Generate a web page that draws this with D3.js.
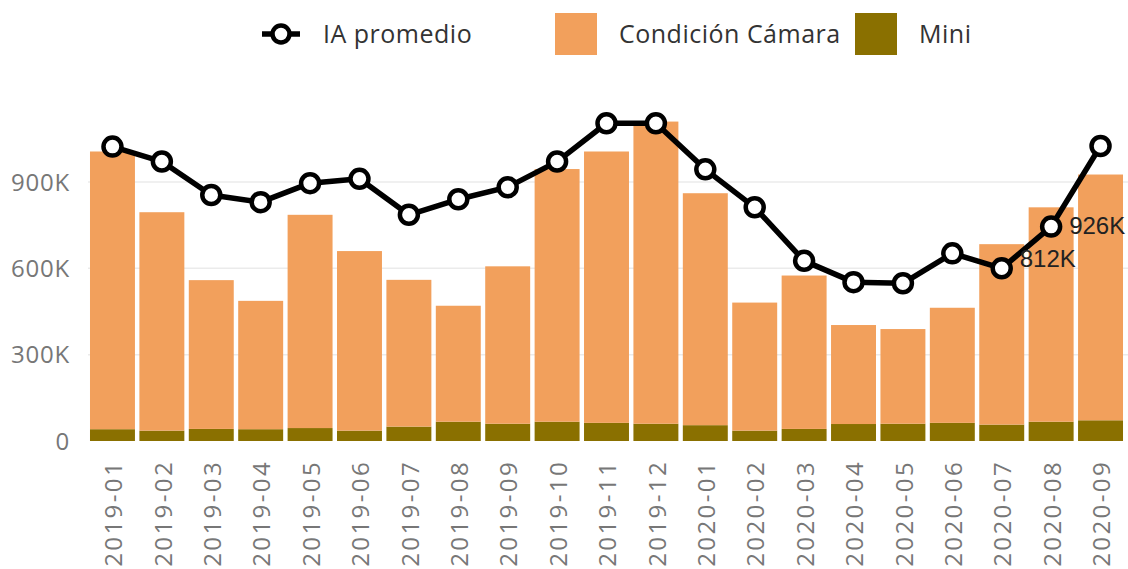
<!DOCTYPE html>
<html>
<head>
<meta charset="utf-8">
<script src="https://cdn.jsdelivr.net/npm/d3@7"></script>
<style>
  body { margin: 0; background: #fff; }
  text { font-family: "Open Sans", "Noto Sans", sans-serif; }
</style>
</head>
<body>
<div id="chart"></div>
<script>
const width = 1128;
const height = 569;

const months = ["2019-01","2019-02","2019-03","2019-04","2019-05","2019-06","2019-07",
  "2019-08","2019-09","2019-10","2019-11","2019-12","2020-01","2020-02","2020-03",
  "2020-04","2020-05","2020-06","2020-07","2020-08","2020-09"];
// values in thousands
const mini = [41,36,42,41,45,36,50,67,60,67,63,60,55,36,42,59,60,63,57,67,72];
const camara = [965,759,517,446,741,624,510,403,547,878,943,1050,806,445,533,344,329,400,627,745,854];
const iaPromedio = [1023,971,855,830,896,911,786,840,882,971,1104,1104,944,812,626,552,548,652,600,745,1025];
const yTicks = [0, 300, 600, 900];
const labelledMonths = ["2020-08", "2020-09"]; // bar totals shown as data labels

const colCamara = "#F2A05C";
const colMini = "#8A7000";

const svg = d3.select('#chart')
    .append('svg')
    .attr('width', width)
    .attr('height', height);

const x = d3.scaleBand()
    .domain(months)
    .range([89, 1124])
    .paddingInner(0.09)
    .paddingOuter(0.02);

const y = d3.scaleLinear()
    .domain([0, 900])
    .range([441, 182]);

const fmt = v => v === 0 ? "0" : v + "K";

// gridlines + y labels
svg.append('g')
    .selectAll('line')
    .data(yTicks.filter(d => d > 0))
    .enter().append('line')
    .attr('x1', 88).attr('x2', 1128)
    .attr('y1', d => y(d)).attr('y2', d => y(d))
    .attr('stroke', '#ebebeb')
    .attr('stroke-width', 1.5);

svg.append('g')
    .selectAll('text')
    .data(yTicks)
    .enter().append('text')
    .attr('x', 70)
    .attr('y', d => y(d))
    .attr('dy', '0.36em')
    .attr('text-anchor', 'end')
    .attr('fill', '#777')
    .style('font-size', '24px')
    .style('letter-spacing', '0.8px')
    .text(fmt);

// stacked bars
const rows = months.map((m, i) => ({month: m, mini: mini[i], camara: camara[i]}));
const stack = d3.stack().keys(['mini', 'camara'])(rows);
const colors = {mini: colMini, camara: colCamara};

svg.append('g')
    .selectAll('g')
    .data(stack)
    .enter().append('g')
    .attr('fill', d => colors[d.key])
    .selectAll('rect')
    .data(d => d)
    .enter().append('rect')
    .attr('x', d => x(d.data.month))
    .attr('width', x.bandwidth())
    .attr('y', d => y(d[1]))
    .attr('height', d => y(d[0]) - y(d[1]));

// x labels
svg.append('g')
    .selectAll('text')
    .data(months)
    .enter().append('text')
    .attr('transform', d => `translate(${x(d) + x.bandwidth() / 2 + 1},460) rotate(-90)`)
    .attr('text-anchor', 'end')
    .attr('dy', '0.36em')
    .attr('fill', '#777')
    .style('font-size', '24px')
    .style('letter-spacing', '2.4px')
    .text(d => d);

// line
const cx = m => x(m) + x.bandwidth() / 2;
const line = d3.line()
    .x((d, i) => cx(months[i]))
    .y(d => y(d));

svg.append('path')
    .datum(iaPromedio)
    .attr('d', line)
    .attr('fill', 'none')
    .attr('stroke', '#000')
    .attr('stroke-width', 5.5)
    .attr('stroke-linejoin', 'round');

svg.append('g')
    .selectAll('circle')
    .data(iaPromedio)
    .enter().append('circle')
    .attr('cx', (d, i) => cx(months[i]))
    .attr('cy', d => y(d))
    .attr('r', 9)
    .attr('fill', '#fff')
    .attr('stroke', '#000')
    .attr('stroke-width', 4.5);

// data labels for last bars, placed beside the previous line point
labelledMonths.forEach((m, k) => {
    const i = months.indexOf(m);
    const total = mini[i] + camara[i];
    svg.append('text')
        .attr('x', cx(months[i - 1]) + 18)
        .attr('y', y(iaPromedio[i - 1]) - (k === 0 ? 10 : 1))
        .attr('dy', '0.36em')
        .attr('fill', '#222')
        .style('font-family', '"Liberation Sans", Arial, sans-serif')
        .style('font-size', '24px')
        .text(fmt(total));
});

// legend
const legend = svg.append('g');
legend.append('line')
    .attr('x1', 262).attr('x2', 300)
    .attr('y1', 34).attr('y2', 34)
    .attr('stroke', '#000').attr('stroke-width', 5.5);
legend.append('circle')
    .attr('cx', 281).attr('cy', 34).attr('r', 8.5)
    .attr('fill', '#fff').attr('stroke', '#000').attr('stroke-width', 4.5);
legend.append('text')
    .attr('x', 323).attr('y', 34).attr('dy', '0.36em')
    .attr('fill', '#333').style('font-size', '25px')
    .style('letter-spacing', '0.5px')
    .text('IA promedio');

[{name: 'Condición Cámara', color: colCamara, x: 555},
 {name: 'Mini', color: colMini, x: 855}].forEach(d => {
    legend.append('rect')
        .attr('x', d.x).attr('y', 13)
        .attr('width', 42).attr('height', 42)
        .attr('fill', d.color);
    legend.append('text')
        .attr('x', d.x + 64).attr('y', 34).attr('dy', '0.36em')
        .attr('fill', '#333').style('font-size', '25px')
        .style('letter-spacing', '0.5px')
        .text(d.name);
});
</script>
</body>
</html>
